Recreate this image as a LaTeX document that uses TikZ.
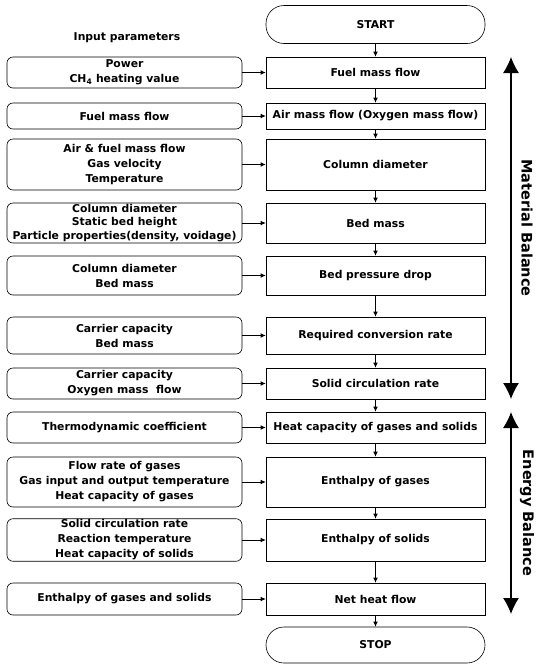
\documentclass[tikz,border=0pt]{standalone}
\usepackage{fontspec}
\setmainfont{DejaVu Sans}
\usetikzlibrary{arrows.meta}

\tikzset{
  inbox/.style={draw, rounded corners=6pt, minimum width=235pt, align=center, inner sep=1pt},
  stepbox/.style={draw, rectangle, minimum width=219pt, align=center, inner sep=1pt},
  termbox/.style={draw, rounded corners=18pt, minimum width=219pt, minimum height=38pt},
  flow/.style={-{Latex[length=5pt,width=4.5pt]}, line width=0.6pt},
  balance/.style={{Latex[length=16pt,width=16pt]}-{Latex[length=16pt,width=16pt]}, line width=1.2pt},
  sidelabel/.style={rotate=-90, font=\fontsize{14.5}{17}\selectfont\bfseries}
}

\begin{document}
\begin{tikzpicture}[x=1pt, y=-1pt, line width=0.6pt,
  font=\fontsize{10.8}{15}\selectfont\bfseries]
  \useasboundingbox (0,0) rectangle (536,665);

  % start and stop
  \node[termbox] (start) at (375.5,24.5) {START};
  \node[termbox, minimum height=36pt] (stop) at (375.5,645) {STOP};
  \node (title) at (127,38) {Input parameters};

  % input parameters
  \node[inbox, minimum height=31pt] (in1) at (124.5,72.5) {Power\\CH$_\mathbf{4}$ heating value};
  \node[inbox, minimum height=26pt] (in2) at (124.5,116) {Fuel mass flow};
  \node[inbox, minimum height=51pt] (in3) at (124.5,164.5) {Air \& fuel mass flow\\Gas velocity\\Temperature};
  \node[inbox, minimum height=40pt, font=\fontsize{10.8}{13.5}\selectfont\bfseries] (in4) at (124.5,223) {Column diameter\\Static bed height\\Particle properties(density, voidage)};
  \node[inbox, minimum height=39pt] (in5) at (124.5,275.5) {Column diameter\\Bed mass};
  \node[inbox, minimum height=37pt] (in6) at (124.5,335.5) {Carrier capacity\\Bed mass};
  \node[inbox, minimum height=31pt] (in7) at (124.5,383.5) {Carrier capacity\\Oxygen mass\ \ flow};
  \node[inbox, minimum height=31pt] (in8) at (124.5,427.5) {Thermodynamic coefficient};
  \node[inbox, minimum height=50pt] (in9) at (124.5,482) {Flow rate of gases\\Gas input and output temperature\\Heat capacity of gases};
  \node[inbox, minimum height=42pt] (in10) at (124.5,540) {Solid circulation rate\\Reaction temperature\\Heat capacity of solids};
  \node[inbox, minimum height=32pt] (in11) at (124.5,599) {Enthalpy of gases and solids};

  % calculation steps
  \node[stepbox, minimum height=31pt] (st1) at (375.5,72.5) {Fuel mass flow};
  \node[stepbox, minimum height=26pt] (st2) at (375.5,116) {Air mass flow (Oxygen mass flow)};
  \node[stepbox, minimum height=51pt] (st3) at (375.5,164.5) {Column diameter};
  \node[stepbox, minimum height=40pt] (st4) at (375.5,223) {Bed mass};
  \node[stepbox, minimum height=39pt] (st5) at (375.5,275.5) {Bed pressure drop};
  \node[stepbox, minimum height=37pt] (st6) at (375.5,335.5) {Required conversion rate};
  \node[stepbox, minimum height=31pt] (st7) at (375.5,383.5) {Solid circulation rate};
  \node[stepbox, minimum height=31pt] (st8) at (375.5,427.5) {Heat capacity of gases and solids};
  \node[stepbox, minimum height=50pt] (st9) at (375.5,482) {Enthalpy of gases};
  \node[stepbox, minimum height=42pt] (st10) at (375.5,540) {Enthalpy of solids};
  \node[stepbox, minimum height=32pt] (st11) at (375.5,599) {Net heat flow};

  % connectors
  \foreach \i in {1,...,11} {
    \draw[flow] (in\i) -- (st\i);
  }
  \foreach \a/\b in {start/st1, st1/st2, st2/st3, st3/st4, st4/st5, st5/st6,
                     st6/st7, st7/st8, st8/st9, st9/st10, st10/st11, st11/stop} {
    \draw[flow] (\a) -- (\b);
  }

  % balance arrows
  \coordinate (mtop) at (511,57);
  \coordinate (mbot) at (511,399);
  \coordinate (etop) at (511,412);
  \coordinate (ebot) at (511,614);
  \draw[balance] (mtop) -- (mbot);
  \draw[balance] (etop) -- (ebot);
  \node[sidelabel] (mlabel) at (527,228) {Material Balance};
  \node[sidelabel] (elabel) at (527,513) {Energy Balance};
\end{tikzpicture}
\end{document}
